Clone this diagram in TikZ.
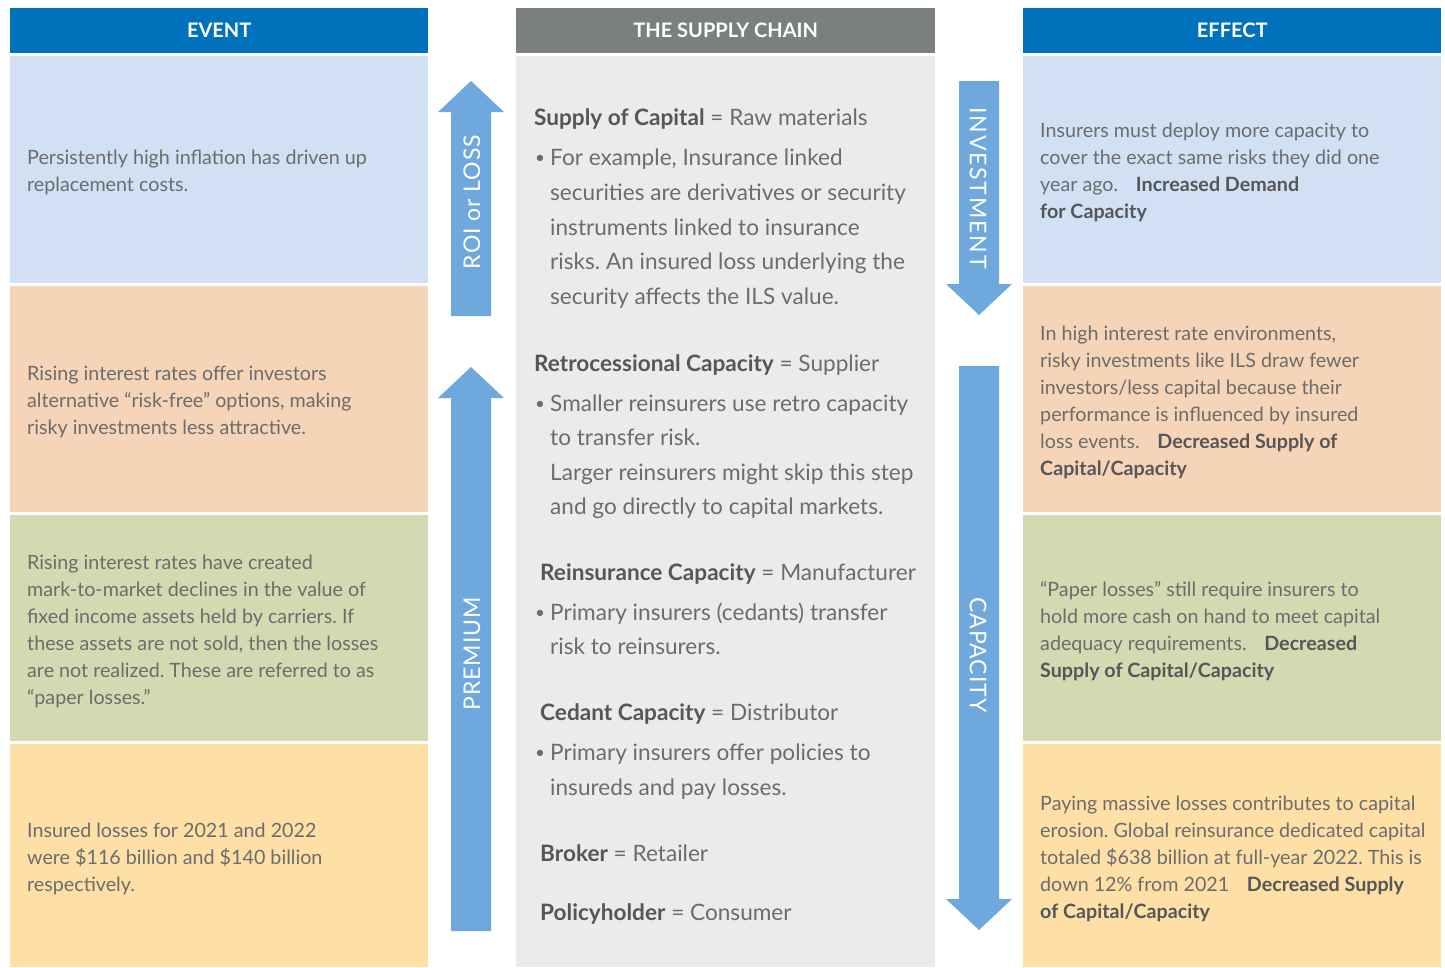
\documentclass[tikz,border=0pt]{standalone}
\usepackage{fontspec}
\setmainfont{Lato}
\frenchspacing
\definecolor{hdrblue}{HTML}{0072BC}
\definecolor{hdrgray}{HTML}{7A807F}
\definecolor{midbg}{HTML}{EAEBEA}
\definecolor{cblue}{HTML}{D1E0F2}
\definecolor{cpeach}{HTML}{F5D4B7}
\definecolor{cgreen}{HTML}{D5D9B1}
\definecolor{cyellow}{HTML}{FEDFA5}
\definecolor{arrowblue}{HTML}{6FA8DC}
\definecolor{txtgray}{HTML}{6B6C6E}
\definecolor{boldgray}{HTML}{55565A}
\newcommand{\kw}[1]{{\bfseries\color{boldgray}#1}}
\begin{document}
\begin{tikzpicture}[x=1pt,y=-1pt,
  hdr/.style={anchor=north west, inner sep=0, minimum width=418pt, minimum height=45pt,
    text=white, font=\bfseries\fontsize{20}{24}\selectfont},
  cell/.style={anchor=north west, inner sep=0, minimum width=418pt},
  celltext/.style={anchor=west, inner sep=0, align=left, text=txtgray, yshift=-3pt,
    font=\frenchspacing\fontsize{19.7}{27}\selectfont},
  midline/.style={anchor=base west, inner sep=0, text=txtgray,
    font=\frenchspacing\fontsize{22.6}{28}\selectfont},
  bul/.style={anchor=base west, inner sep=0, text=txtgray,
    font=\fontsize{17}{20}\selectfont, yshift=2pt},
  arrowlabel/.style={inner sep=0, text=white,
    font=\fontsize{23}{26}\selectfont\addfontfeature{LetterSpace=4}}
]
\useasboundingbox (0,0) rectangle (1445,967);
\fill[white] (0,0) rectangle (1445,967);

% ---- column headers
\node[hdr, fill=hdrblue] (hevent) at (10,8) {EVENT};
\node[hdr, fill=hdrgray, minimum width=419pt] (hchain) at (516,8) {THE SUPPLY CHAIN};
\node[hdr, fill=hdrblue] (heffect) at (1023,8) {EFFECT};

% ---- supply chain background
\node[cell, fill=midbg, minimum width=419pt, minimum height=911pt] (chain) at (516,56) {};

% ---- event column
\node[cell, fill=cblue,   minimum height=227pt] (e1) at (10,56) {};
\node[cell, fill=cpeach,  minimum height=226pt] (e2) at (10,286) {};
\node[cell, fill=cgreen,  minimum height=226pt] (e3) at (10,515) {};
\node[cell, fill=cyellow, minimum height=223pt] (e4) at (10,744) {};

\node[celltext] (te1) at ([xshift=17pt]e1.west)
  {Persistently high inflation has driven up\\replacement costs.};
\node[celltext] (te2) at ([xshift=17pt]e2.west)
  {Rising interest rates offer investors\\alternative “risk-free” options, making\\risky investments less attractive.};
\node[celltext] (te3) at ([xshift=17pt]e3.west)
  {Rising interest rates have created\\mark-to-market declines in the value of\\fixed income assets held by carriers. If\\these assets are not sold, then the losses\\are not realized. These are referred to as\\“paper losses.”};
\node[celltext] (te4) at ([xshift=17pt]e4.west)
  {Insured losses for 2021 and 2022\\were \$116 billion and \$140 billion\\respectively.};

% ---- effect column
\node[cell, fill=cblue,   minimum height=227pt] (f1) at (1023,56) {};
\node[cell, fill=cpeach,  minimum height=226pt] (f2) at (1023,286) {};
\node[cell, fill=cgreen,  minimum height=226pt] (f3) at (1023,515) {};
\node[cell, fill=cyellow, minimum height=223pt] (f4) at (1023,744) {};

\node[celltext] (tf1) at ([xshift=17pt]f1.west)
  {Insurers must deploy more capacity to\\cover the exact same risks they did one\\year ago.\hspace{0.9em}\kw{Increased Demand}\\\kw{for Capacity}};
\node[celltext] (tf2) at ([xshift=17pt]f2.west)
  {In high interest rate environments,\\risky investments like ILS draw fewer\\investors/less capital because their\\performance is influenced by insured\\loss events.\hspace{0.9em}\kw{Decreased Supply of}\\\kw{Capital/Capacity}};
\node[celltext] (tf3) at ([xshift=17pt]f3.west)
  {“Paper losses” still require insurers to\\hold more cash on hand to meet capital\\adequacy requirements.\hspace{0.9em}\kw{Decreased}\\\kw{Supply of Capital/Capacity}};
\node[celltext] (tf4) at ([xshift=17pt]f4.west)
  {Paying massive losses contributes to capital\\erosion. Global reinsurance dedicated capital\\totaled \$638 billion at full-year 2022. This is\\down 12\% from 2021\hspace{0.9em}\kw{Decreased Supply}\\\kw{of Capital/Capacity}};

% ---- supply chain text
\node[midline] (s1)  at (534,125) {\kw{Supply of Capital} = Raw materials};
\node[bul]     (b1)  at (535,165) {•};
\node[midline] (s1a) at (550,165) {For example, Insurance linked};
\node[midline] (s1b) at (550,200) {securities are derivatives or security};
\node[midline] (s1c) at (550,235) {instruments linked to insurance};
\node[midline] (s1d) at (550,269) {risks. An insured loss underlying the};
\node[midline] (s1e) at (550,304) {security affects the ILS value.};

\node[midline] (s2)  at (534,371) {\kw{Retrocessional Capacity} = Supplier};
\node[bul]     (b2)  at (535,411) {•};
\node[midline] (s2a) at (550,411) {Smaller reinsurers use retro capacity};
\node[midline] (s2b) at (550,445) {to transfer risk.};
\node[midline] (s2c) at (550,480) {Larger reinsurers might skip this step};
\node[midline] (s2d) at (550,514) {and go directly to capital markets.};

\node[midline] (s3)  at (540,580) {\kw{Reinsurance Capacity} = Manufacturer};
\node[bul]     (b3)  at (535,620) {•};
\node[midline] (s3a) at (550,620) {Primary insurers (cedants) transfer};
\node[midline] (s3b) at (550,654) {risk to reinsurers.};

\node[midline] (s4)  at (540,720) {\kw{Cedant Capacity} = Distributor};
\node[bul]     (b4)  at (535,760) {•};
\node[midline] (s4a) at (550,760) {Primary insurers offer policies to};
\node[midline] (s4b) at (550,795) {insureds and pay losses.};

\node[midline] (s5)  at (540,861) {\kw{Broker} = Retailer};
\node[midline] (s6)  at (540,920) {\kw{Policyholder} = Consumer};

% ---- flow arrows (left gutter, pointing up)
\fill[arrowblue] (451,316) -- (451,112) -- (438,112) -- (471,81) -- (504,112)
  -- (491,112) -- (491,316) -- cycle;
\fill[arrowblue] (451,931) -- (451,398) -- (438,398) -- (471,367) -- (504,398)
  -- (491,398) -- (491,931) -- cycle;
% ---- flow arrows (right gutter, pointing down)
\fill[arrowblue] (959,81) -- (959,284) -- (946,284) -- (979,315) -- (1012,284)
  -- (999,284) -- (999,81) -- cycle;
\fill[arrowblue] (959,366) -- (959,899) -- (946,899) -- (979,930) -- (1012,899)
  -- (999,899) -- (999,366) -- cycle;

\node[arrowlabel, rotate=90]  (lroi)  at (472,202) {ROI or LOSS};
\node[arrowlabel, rotate=90]  (lprem) at (472,654) {PREMIUM};
\node[arrowlabel, rotate=-90, font=\fontsize{23}{26}\selectfont\addfontfeature{LetterSpace=8}] (linv) at (978,188) {INVESTMENT};
\node[arrowlabel, rotate=-90] (lcap)  at (978,655) {CAPACITY};
\end{tikzpicture}
\end{document}
